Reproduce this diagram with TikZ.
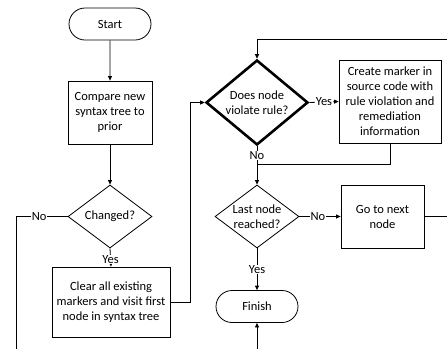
\documentclass[tikz,border=0pt]{standalone}
\usepackage{fontspec}
\setmainfont{Carlito}
\usetikzlibrary{shapes.geometric,shapes.misc,arrows.meta}
\tikzset{
  base/.style={draw=black, line width=0.8pt, font=\fontsize{12.5}{15}\selectfont, align=center, inner sep=1pt},
  term/.style={base, rounded rectangle, minimum width=84pt, minimum height=32pt},
  proc/.style={base, rectangle, minimum width=84pt, minimum height=63pt},
  dia/.style={base, diamond, minimum width=84pt, minimum height=63pt},
  ctr/.style={label={[font=\fontsize{12.5}{15}\selectfont, align=center]center:#1}},
  conn/.style={line width=0.8pt},
  arr/.style={conn, -{Triangle[length=4.5pt,width=4pt]}},
  lab/.style={fill=white, inner sep=0.5pt, font=\fontsize{12.5}{15}\selectfont}
}
\begin{document}
\begin{tikzpicture}[x=1pt,y=-1pt]
\useasboundingbox (0,0) rectangle (447,349);
\node[term] (start) at (110,24) {Start};
\node[proc] (compare) at (110,112.5) {Compare new\\syntax tree to\\prior};
\node[dia, ctr={Changed?}] (changed) at (110,216.5) {};
\node[proc, minimum width=118pt, minimum height=70pt] (clear) at (111,302) {Clear all existing\\markers and visit first\\node in syntax tree};
\node[dia, line width=2.6pt, minimum width=102pt, minimum height=85pt, ctr={Does node\\violate rule?}] (does) at (257,102.5) {};
\node[proc, minimum width=102pt, minimum height=83pt] (create) at (390,101.5) {Create marker in\\source code with\\rule violation and\\remediation\\information};
\node[dia, ctr={Last node\\reached?}] (last) at (257,216.5) {};
\node[proc, minimum width=83pt] (go) at (382.5,216.5) {Go to next\\node};
\node[term] (finish) at (257,306.5) {Finish};
\coordinate (noend) at (16,349);
\coordinate (topR) at (447,39);
\coordinate (join) at (257,164);
\coordinate (goend) at (447,216.5);
\coordinate (botF) at (257,349);

\draw[arr] (start) -- (compare);
\draw[arr] (compare) -- (changed);
\draw[conn] (changed.west) -- node[lab, pos=0.55] {No} (16,216.5) -- (noend);
\draw[arr] (changed.south) -- node[lab, pos=0.62] {Yes} (clear.north);
\draw[arr] (clear.east) -- ++(20,0) |- (does.west);
\draw[arr] (topR) -| (does.north);
\draw[arr] (does.east) -- node[lab] {Yes} (create.west);
\draw[arr] (does.south) -- node[lab, pos=0.25] {No} (last.north);
\draw[conn] (create.south) |- (join);
\draw[arr] (last.east) -- node[lab, pos=0.45] {No} (go.west);
\draw[conn] (go.east) -- (goend);
\draw[arr] (last.south) -- node[lab] {Yes} (finish.north);
\draw[arr] (botF) -- (finish.south);
\end{tikzpicture}
\end{document}
